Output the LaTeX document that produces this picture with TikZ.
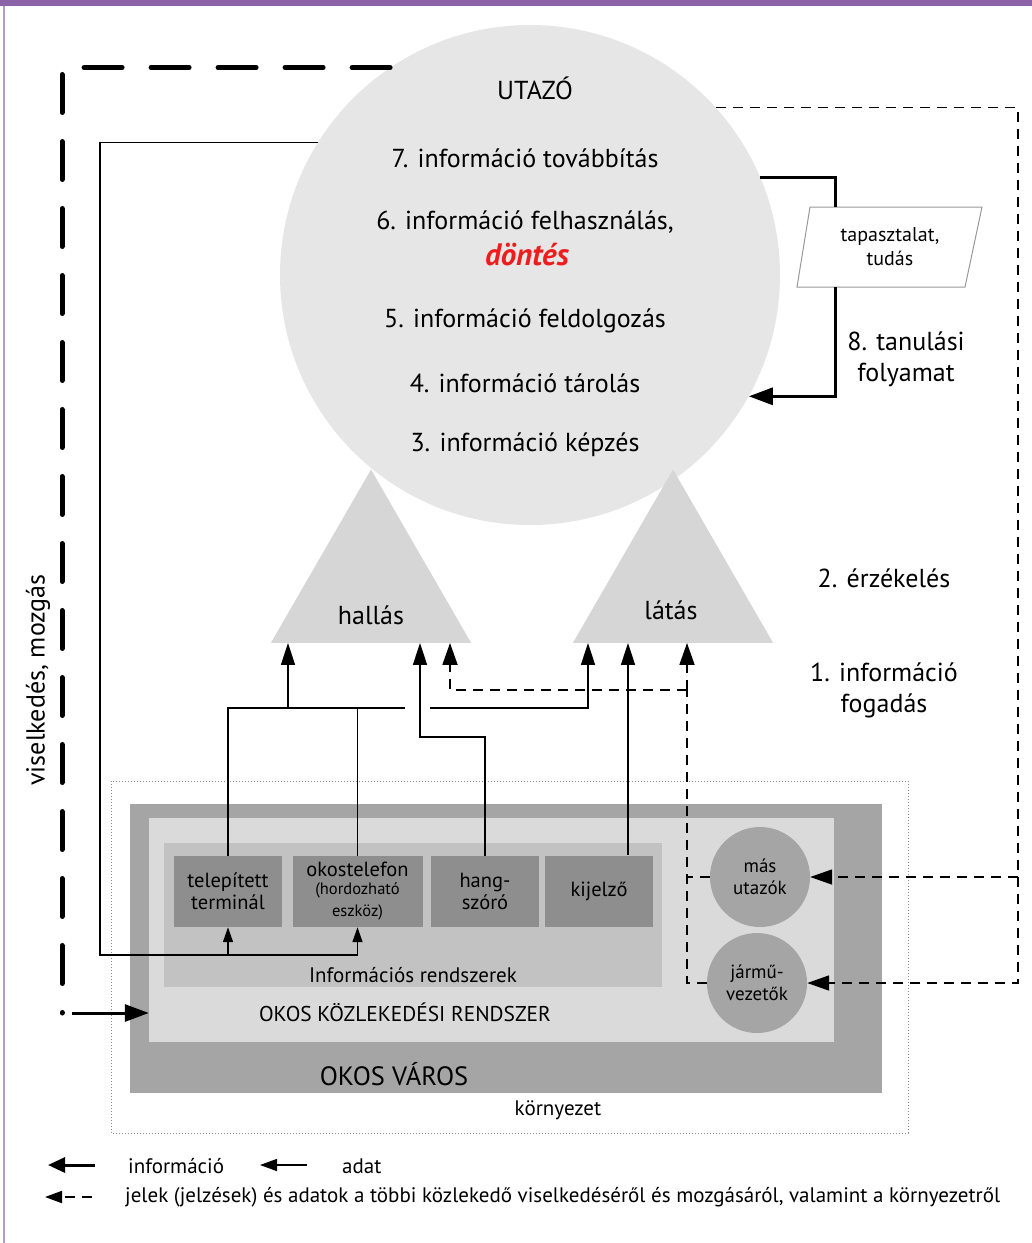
\documentclass[tikz,border=0pt]{standalone}
\usepackage{fontspec}
\setmainfont{PT Sans}
\usetikzlibrary{arrows.meta,shapes.geometric,positioning}

\definecolor{fejlila}{HTML}{8B62A8}
\definecolor{szellila}{HTML}{B39CCB}
\definecolor{utazoszurke}{HTML}{E6E6E6}
\definecolor{varosszurke}{HTML}{A5A5A5}
\definecolor{kozlszurke}{HTML}{DADADA}
\definecolor{infoszurke}{HTML}{C2C2C2}
\definecolor{eszkozszurke}{HTML}{8E8E8E}
\definecolor{erzekszurke}{HTML}{D6D6D6}
\definecolor{dontespiros}{HTML}{EE1C1C}

\tikzset{
  info/.style={line width=3pt,-{Triangle[length=24pt,width=17pt]}},
  infovonal/.style={line width=3pt},
  adat/.style={line width=1.5pt},
  adatnyil/.style={adat,-{Triangle[length=22pt,width=14pt]}},
  kisnyil/.style={adat,-{Triangle[length=15pt,width=10pt]}},
  jel/.style={line width=1.8pt,dash pattern=on 10pt off 7pt,draw=black},
  jelnyil/.style={jel,-{Triangle[length=22pt,width=15pt]}},
  viselk/.style={line width=5pt,dash pattern=on 38pt off 29pt,line cap=round},
  eszkoz/.style={rectangle,fill=eszkozszurke,minimum width=108pt,minimum height=71pt,
    inner sep=0pt,align=center,font=\fontsize{20.5}{22}\selectfont},
  szoveg/.style={font=\fontsize{26}{31}\selectfont,inner sep=0pt,align=center},
  erzek/.style={regular polygon,regular polygon sides=3,minimum size=231pt,
    inner sep=0pt,fill=erzekszurke},
  kor/.style={circle,fill=varosszurke,minimum size=100pt,inner sep=0pt,align=center,
    font=\fontsize{19}{22}\selectfont},
  legenda/.style={font=\fontsize{21}{23}\selectfont,inner sep=0pt,anchor=west},
}

\begin{document}
\begin{tikzpicture}[x=1pt,y=-1pt]
\useasboundingbox (0,0) rectangle (1032,1243);
% keret
\fill[fejlila] (0,0) rectangle (1032,6);
\draw[szellila,line width=2pt] (4,6) -- (4,1243);

% utazo
\node[circle,fill=utazoszurke,minimum size=500pt,inner sep=0pt] (utazo) at (530,275) {};
\node[szoveg] (cim) at (535,88) {UTAZÓ};
\node[szoveg] (t7) at (525,158) {7. információ továbbítás};
\node[szoveg] (t6) at (525,222) {6. információ felhasználás,};
\node[szoveg,font=\fontsize{31}{34}\selectfont\bfseries\itshape,text=dontespiros] (dontes) at (527,255) {döntés};
\node[szoveg] (t5) at (525,321) {5. információ feldolgozás};
\node[szoveg] (t4) at (525,383) {4. információ tárolás};
\node[szoveg] (t3) at (525,445) {3. információ képzés};

% tapasztalat
\draw[fill=white,draw=black!40,line width=1pt] (810,207) -- (982,207) -- (965,287) -- (797,287) -- cycle;
\node[szoveg,font=\fontsize{20}{24}\selectfont] (tapasz) at (890,247) {tapasztalat,\\tudás};
\coordinate (tf) at (835,207);
\coordinate (ta) at (835,287);
\node[szoveg] (tanul) at (906,359) {8. tanulási\\folyamat};

% erzekeles
\node[erzek] (hallas) at (371,585) {};
\node[erzek] (latas) at (673,585) {};
\node[szoveg] (hallascim) at (371,615) {hallás};
\node[szoveg] (latascim) at (671,610) {látás};
\node[szoveg] (erz) at (884,578) {2. érzékelés};
\node[szoveg] (fog) at (884,690) {1. információ\\fogadás};
\node[szoveg,rotate=90] (visel) at (38,680) {viselkedés, mozgás};

% rendszerek
\draw[black!45,dotted,line width=1pt] (111,781) rectangle (908,1133);
\node[szoveg,font=\fontsize{21}{24}\selectfont] (korny) at (558,1110) {környezet};
\node[fill=varosszurke,minimum width=752pt,minimum height=289pt,inner sep=0pt] (varos) at (506,948.5) {};
\node[fill=kozlszurke,minimum width=685pt,minimum height=224pt,inner sep=0pt] (kozl) at (491.5,930) {};
\node[fill=infoszurke,minimum width=498pt,minimum height=144pt,inner sep=0pt] (infr) at (413,915) {};
\node[szoveg,font=\fontsize{26.5}{30}\selectfont] (varoscim) at (394,1074) {OKOS VÁROS};
\node[szoveg,font=\fontsize{21.4}{24}\selectfont] (kozlcim) at (405,1012) {OKOS KÖZLEKEDÉSI RENDSZER};
\node[szoveg,font=\fontsize{21}{24}\selectfont] (infrcim) at (413,975) {Információs rendszerek};

\node[eszkoz] (term) at (228,891.5) {telepített\\terminál};
\node[eszkoz,minimum width=130pt] (okos) at (357.5,891.5) {okostelefon\\[-4pt]\fontsize{16.5}{17}\selectfont (hordozható\\\fontsize{16.5}{17}\selectfont eszköz)};
\node[eszkoz] (hang) at (485,891.5) {hang-\\szóró};
\node[eszkoz] (kij) at (599,891.5) {kijelző};
\node[kor] (mas) at (760,877) {más\\utazók};
\node[kor] (jarmu) at (757,983) {jármű-\\vezetők};

% viselkedes, mozgas
\coordinate (vm) at (62,1013);
\draw[viselk] (utazo.124) -| (vm);
\draw[info] ([xshift=10pt]vm) -- (vm -| kozl.west);

% visszacsatolas az eszkozokre
\coordinate (ah) at (100,955);
\draw[kisnyil] (utazo.148) -| (ah) -| (okos.south);
\draw[kisnyil] (term.south |- ah) -- (term.south);

% tanulasi folyamat
\draw[infovonal] (utazo.23) -| (tf);
\draw[info] (ta) |- (utazo.-29);

% jelek a kornyezetbol
\coordinate (jsarok) at (1018,983);
\draw[jelnyil] (utazo.42) -| (jsarok) -- (jarmu.east);
\draw[jelnyil] (jsarok |- mas.east) -- (mas.east);
\coordinate (jf) at (687,690);
\coordinate (jh) at (450,690);
\draw[jel] (jarmu.west) -| (jf);
\draw[jel] (mas.west) -- (mas.west -| jf);
\draw[jelnyil] (jf) -- (jf |- latas.south);
\draw[jelnyil] (jf) -- (jh) -- (jh |- hallas.south);

% adatok az eszkozokbol
\coordinate (ag) at (405,708);
\coordinate (ah1) at (288,708);
\coordinate (al) at (430,708);
\coordinate (al2) at (588,708);
\coordinate (hk) at (420,737);
\coordinate (kk) at (628,855);
\draw[adat] (term.north) |- (ag);
\draw[adat] (okos.north) -- (okos.north |- ag);
\draw[adatnyil] (ah1) -- (ah1 |- hallas.south);
\draw[adatnyil] (al) -- (al2) -- (al2 |- latas.south);
\draw[adatnyil] (hang.north) |- (hk) -- (hk |- hallas.south);
\draw[adatnyil] (kk) -- (kk |- latas.south);

% jelmagyarazat
\coordinate (l1) at (95,1165);
\coordinate (l2) at (307,1165);
\coordinate (l3) at (92,1197);
\draw[line width=3pt,-{Triangle[length=17pt,width=15pt]}] (l1) -- ++(-47,0);
\node[legenda] (lginfo) at (128,1166) {információ};
\draw[adat,-{Triangle[length=17pt,width=12pt]}] (l2) -- ++(-47,0);
\node[legenda] (lgadat) at (342,1166) {adat};
\draw[line width=2pt,dash pattern=on 10pt off 7pt,-{Triangle[length=17pt,width=12pt]}] (l3) -- ++(-47,0);
\node[legenda] (lgjel) at (125,1197) {jelek (jelzések) és adatok a többi közlekedő viselkedéséről és mozgásáról, valamint a környezetről};
\end{tikzpicture}
\end{document}
